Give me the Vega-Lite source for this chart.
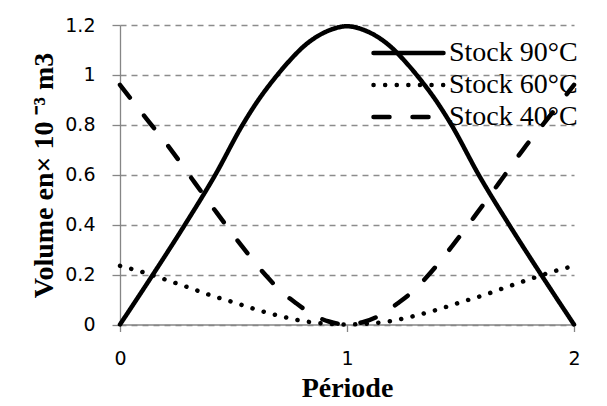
{
  "$schema": "https://vega.github.io/schema/vega-lite/v6.json",
  "width": 454,
  "height": 299.5,
  "autosize": {"type": "none"},
  "padding": {"left": 120, "top": 25, "right": 33, "bottom": 81.5},
  "background": "white",
  "config": {
    "view": {"stroke": null},
    "legend": {"labelFont": "Liberation Serif", "labelFontSize": 28, "labelColor": "black"}
  },
  "data": {
    "values": [
      {"serie": "Stock 90°C", "periode": 0, "volume": 0},
      {"serie": "Stock 90°C", "periode": 0.145, "volume": 0.2},
      {"serie": "Stock 90°C", "periode": 0.286, "volume": 0.4},
      {"serie": "Stock 90°C", "periode": 0.42, "volume": 0.6},
      {"serie": "Stock 90°C", "periode": 0.54, "volume": 0.8},
      {"serie": "Stock 90°C", "periode": 0.61, "volume": 0.9},
      {"serie": "Stock 90°C", "periode": 0.68, "volume": 0.985},
      {"serie": "Stock 90°C", "periode": 0.75, "volume": 1.06},
      {"serie": "Stock 90°C", "periode": 0.81, "volume": 1.115},
      {"serie": "Stock 90°C", "periode": 0.87, "volume": 1.155},
      {"serie": "Stock 90°C", "periode": 0.935, "volume": 1.183},
      {"serie": "Stock 90°C", "periode": 1, "volume": 1.195},
      {"serie": "Stock 90°C", "periode": 1.065, "volume": 1.183},
      {"serie": "Stock 90°C", "periode": 1.13, "volume": 1.155},
      {"serie": "Stock 90°C", "periode": 1.19, "volume": 1.115},
      {"serie": "Stock 90°C", "periode": 1.25, "volume": 1.06},
      {"serie": "Stock 90°C", "periode": 1.32, "volume": 0.985},
      {"serie": "Stock 90°C", "periode": 1.39, "volume": 0.9},
      {"serie": "Stock 90°C", "periode": 1.46, "volume": 0.8},
      {"serie": "Stock 90°C", "periode": 1.58, "volume": 0.6},
      {"serie": "Stock 90°C", "periode": 1.714, "volume": 0.4},
      {"serie": "Stock 90°C", "periode": 1.855, "volume": 0.2},
      {"serie": "Stock 90°C", "periode": 2, "volume": 0},

      {"serie": "Stock 60°C", "periode": 0, "volume": 0.235},
      {"serie": "Stock 60°C", "periode": 0.1, "volume": 0.21},
      {"serie": "Stock 60°C", "periode": 0.2, "volume": 0.18},
      {"serie": "Stock 60°C", "periode": 0.3, "volume": 0.149},
      {"serie": "Stock 60°C", "periode": 0.4, "volume": 0.117},
      {"serie": "Stock 60°C", "periode": 0.5, "volume": 0.089},
      {"serie": "Stock 60°C", "periode": 0.6, "volume": 0.06},
      {"serie": "Stock 60°C", "periode": 0.7, "volume": 0.035},
      {"serie": "Stock 60°C", "periode": 0.8, "volume": 0.015},
      {"serie": "Stock 60°C", "periode": 0.9, "volume": 0.004},
      {"serie": "Stock 60°C", "periode": 1, "volume": 0},
      {"serie": "Stock 60°C", "periode": 1.1, "volume": 0.004},
      {"serie": "Stock 60°C", "periode": 1.2, "volume": 0.015},
      {"serie": "Stock 60°C", "periode": 1.3, "volume": 0.035},
      {"serie": "Stock 60°C", "periode": 1.4, "volume": 0.06},
      {"serie": "Stock 60°C", "periode": 1.5, "volume": 0.089},
      {"serie": "Stock 60°C", "periode": 1.6, "volume": 0.117},
      {"serie": "Stock 60°C", "periode": 1.7, "volume": 0.149},
      {"serie": "Stock 60°C", "periode": 1.8, "volume": 0.18},
      {"serie": "Stock 60°C", "periode": 1.9, "volume": 0.21},
      {"serie": "Stock 60°C", "periode": 2, "volume": 0.235},

      {"serie": "Stock 40°C", "periode": 0, "volume": 0.96},
      {"serie": "Stock 40°C", "periode": 0.11, "volume": 0.832},
      {"serie": "Stock 40°C", "periode": 0.22, "volume": 0.706},
      {"serie": "Stock 40°C", "periode": 0.32, "volume": 0.58},
      {"serie": "Stock 40°C", "periode": 0.426, "volume": 0.448},
      {"serie": "Stock 40°C", "periode": 0.536, "volume": 0.315},
      {"serie": "Stock 40°C", "periode": 0.646, "volume": 0.193},
      {"serie": "Stock 40°C", "periode": 0.705, "volume": 0.137},
      {"serie": "Stock 40°C", "periode": 0.778, "volume": 0.084},
      {"serie": "Stock 40°C", "periode": 0.844, "volume": 0.042},
      {"serie": "Stock 40°C", "periode": 0.92, "volume": 0.012},
      {"serie": "Stock 40°C", "periode": 1, "volume": 0},
      {"serie": "Stock 40°C", "periode": 1.08, "volume": 0.012},
      {"serie": "Stock 40°C", "periode": 1.156, "volume": 0.042},
      {"serie": "Stock 40°C", "periode": 1.222, "volume": 0.084},
      {"serie": "Stock 40°C", "periode": 1.295, "volume": 0.137},
      {"serie": "Stock 40°C", "periode": 1.354, "volume": 0.193},
      {"serie": "Stock 40°C", "periode": 1.464, "volume": 0.315},
      {"serie": "Stock 40°C", "periode": 1.574, "volume": 0.448},
      {"serie": "Stock 40°C", "periode": 1.68, "volume": 0.58},
      {"serie": "Stock 40°C", "periode": 1.78, "volume": 0.706},
      {"serie": "Stock 40°C", "periode": 1.89, "volume": 0.832},
      {"serie": "Stock 40°C", "periode": 2, "volume": 0.96}
    ]
  },
  "mark": {
    "type": "line",
    "strokeWidth": 4.5,
    "strokeCap": "round",
    "strokeJoin": "round",
    "color": "black",
    "interpolate": "monotone",
    "clip": false
  },
  "encoding": {
    "x": {
      "field": "periode",
      "type": "quantitative",
      "scale": {"domain": [0, 2], "nice": false, "zero": false},
      "axis": {
        "values": [0, 1, 2],
        "format": "~g",
        "grid": false,
        "labelFlush": false,
        "domainColor": "#868686",
        "domainWidth": 1.3,
        "tickColor": "#868686",
        "tickWidth": 1.3,
        "tickSize": 7,
        "labelPadding": 18,
        "labelFont": "DejaVu Sans",
        "labelFontSize": 19,
        "labelColor": "black",
        "title": "Période",
        "titleFont": "Liberation Serif",
        "titleFontWeight": "bold",
        "titleFontSize": 28,
        "titleColor": "black",
        "titleBaseline": "alphabetic",
        "titleY": 72.4
      }
    },
    "y": {
      "field": "volume",
      "type": "quantitative",
      "scale": {"domain": [0, 1.2], "nice": false},
      "axis": {
        "values": [0, 0.2, 0.4, 0.6, 0.8, 1, 1.2],
        "format": "~g",
        "grid": true,
        "gridColor": "#8c8c8c",
        "gridDash": [6, 5],
        "gridWidth": 1.3,
        "domainColor": "#868686",
        "domainWidth": 1.3,
        "tickColor": "#868686",
        "tickWidth": 1.3,
        "tickSize": 8,
        "labelPadding": 17,
        "labelFont": "DejaVu Sans",
        "labelFontSize": 19,
        "labelColor": "black",
        "title": "Volume en× 10 ⁻³ m3",
        "titleFont": "Liberation Serif",
        "titleFontWeight": "bold",
        "titleFontSize": 28,
        "titleColor": "black",
        "titleAngle": -90,
        "titleAlign": "center",
        "titleBaseline": "alphabetic",
        "titleX": -68,
        "titleY": 150
      }
    },
    "strokeDash": {
      "field": "serie",
      "type": "nominal",
      "scale": {
        "domain": ["Stock 90°C", "Stock 60°C", "Stock 40°C"],
        "range": [[1, 0], [0.1, 11.5], [16, 23]]
      },
      "legend": {
        "orient": "none",
        "legendX": 251,
        "legendY": 12,
        "title": null,
        "padding": 0,
        "symbolType": "stroke",
        "symbolSize": 4900,
        "symbolStrokeWidth": 4.5,
        "symbolStrokeColor": "black",
        "labelFont": "Liberation Serif",
        "labelFontSize": 28,
        "labelColor": "black",
        "labelOffset": 3,
        "labelLimit": 300,
        "clipHeight": 32,
        "rowPadding": 0,
        "encode": {
          "symbols": {"update": {"strokeCap": {"value": "round"}}},
          "labels": {"update": {"font": {"value": "Liberation Serif"}, "fontSize": {"value": 28}}}
        }
      }
    }
  }
}
